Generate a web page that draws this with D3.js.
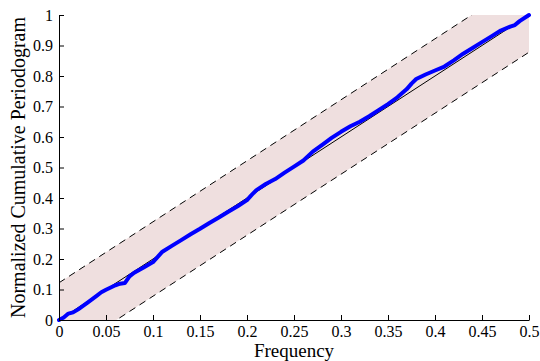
<!DOCTYPE html>
<html><head><meta charset="utf-8">
<script src="https://cdn.jsdelivr.net/npm/d3@7"></script>
<style>
html,body{margin:0;padding:0;background:#fff;}
svg{display:block;}
</style></head>
<body>
<svg id="chart" width="540" height="361"></svg>
<script>
// Data
const freq = [0,0.005,0.01,0.015,0.02,0.03,0.04,0.045,0.05,0.06,0.065,0.07,0.075,0.08,0.09,0.1,0.105,0.11,0.12,0.13,0.14,0.15,0.16,0.17,0.18,0.19,0.2,0.205,0.21,0.22,0.23,0.24,0.25,0.26,0.27,0.28,0.29,0.3,0.31,0.32,0.33,0.34,0.35,0.36,0.37,0.375,0.38,0.39,0.4,0.41,0.42,0.43,0.44,0.45,0.46,0.47,0.48,0.485,0.49,0.5];
const cpg  = [0,0.008,0.021,0.025,0.034,0.056,0.079,0.091,0.099,0.114,0.119,0.121,0.143,0.155,0.172,0.19,0.207,0.224,0.243,0.262,0.281,0.299,0.318,0.336,0.355,0.373,0.393,0.41,0.426,0.446,0.462,0.483,0.503,0.523,0.552,0.574,0.597,0.617,0.635,0.65,0.668,0.688,0.708,0.73,0.757,0.775,0.79,0.805,0.818,0.831,0.851,0.873,0.892,0.911,0.93,0.949,0.962,0.967,0.98,1.0];
const bound = 0.122;
const xTicks = [0,0.05,0.1,0.15,0.2,0.25,0.3,0.35,0.4,0.45,0.5];
const yTicks = [0,0.1,0.2,0.3,0.4,0.5,0.6,0.7,0.8,0.9,1];
const xLabel = "Frequency";
const yLabel = "Normalized Cumulative Periodogram";

const FONT = "'Liberation Serif','Times New Roman',Times,serif";
const svg = d3.select("#chart");
const L = 59, R = 529, T = 15, B = 320;
const x = d3.scaleLinear().domain([0,0.5]).range([L,R]);
const y = d3.scaleLinear().domain([0,1]).range([B,T]);

svg.append("defs").append("clipPath").attr("id","clip")
  .append("rect").attr("x",L).attr("y",T).attr("width",R-L).attr("height",B-T);

const g = svg.append("g").attr("clip-path","url(#clip)");
const line = d3.line().x(d=>x(d[0])).y(d=>y(d[1]));
// band
const bandPts = [[0,bound],[0.5,1+bound],[0.5,1-bound],[0,-bound]];
g.append("path").attr("d", line(bandPts)+"Z")
  .attr("fill","#efdfdf").attr("stroke","none");
// dashed bounds
[[ [0,bound],[0.5,1+bound] ], [ [0,-bound],[0.5,1-bound] ]].forEach(seg=>{
  g.append("path").attr("d", line(seg))
    .attr("fill","none").attr("stroke","#000").attr("stroke-width",1)
    .attr("stroke-dasharray","7,5");
});
// diagonal
g.append("path").attr("d", line([[0,0],[0.5,1]]))
  .attr("fill","none").attr("stroke","#000").attr("stroke-width",1);
// cumulative periodogram
svg.append("path")
  .datum(freq.map((f,i)=>[f,cpg[i]]))
  .attr("d", line)
  .attr("fill","none").attr("stroke","#0000ff").attr("stroke-width",4)
  .attr("stroke-linejoin","round").attr("stroke-linecap","round");

// axes
const xAxis = d3.axisBottom(x).tickValues(xTicks).tickFormat(d=>String(+d.toFixed(2)))
  .tickSizeInner(-5).tickSizeOuter(0).tickPadding(6);
const yAxis = d3.axisLeft(y).tickValues(yTicks).tickFormat(d=>String(+d.toFixed(1)))
  .tickSizeInner(-5).tickSizeOuter(0).tickPadding(6);
const gx = svg.append("g").attr("transform",`translate(0,${B})`).call(xAxis);
const gy = svg.append("g").attr("transform",`translate(${L},0)`).call(yAxis);
[gx,gy].forEach(a=>{
  a.attr("font-family",FONT).attr("font-size",16);
  a.selectAll("text").attr("fill","#000");
  a.selectAll("line").attr("stroke","#000");
  a.select(".domain").attr("stroke","#000");
});

svg.append("text").attr("x",(L+R)/2).attr("y",357).attr("text-anchor","middle")
  .attr("font-family",FONT).attr("font-size",19).attr("fill","#000").text(xLabel);
svg.append("text").attr("transform",`translate(25,${(T+B)/2}) rotate(-90)`)
  .attr("text-anchor","middle").attr("font-family",FONT).attr("font-size",20).attr("fill","#000").text(yLabel);
</script>
</body></html>
